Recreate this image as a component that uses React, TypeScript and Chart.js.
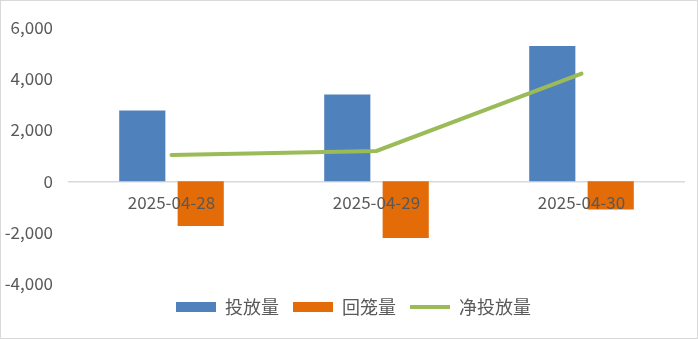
import React, { useEffect, useRef } from "react";
import { Chart, registerables } from "chart.js";

Chart.register(...registerables);

const categories = ["2025-04-28", "2025-04-29", "2025-04-30"];
const releaseValues = [2760, 3380, 5270];
const withdrawValues = [-1745, -2210, -1100];
const netValues = [1025, 1180, 4190];
const seriesNames = ["投放量", "回笼量", "净投放量"];
const yMin = -4000;
const yMax = 6000;
const yStep = 2000;

const FONT = "'Noto Sans CJK SC', 'Noto Sans', sans-serif";
const TEXT = "#595959";

const legendShift = {
  id: "legendShift",
  afterLayout(chart: any) {
    const lg = chart.legend;
    if (lg) {
      lg.left += 11;
      lg.right += 11;
      if (typeof lg.adjustHitBoxes === "function") lg.adjustHitBoxes();
    }
  },
};

export default function App() {
  const ref = useRef<HTMLCanvasElement | null>(null);
  useEffect(() => {
    if (!ref.current) return;
    const chart = new Chart(ref.current, {
      type: "bar",
      data: {
        labels: categories,
        datasets: [
          {
            type: "bar",
            label: seriesNames[0],
            data: releaseValues,
            backgroundColor: "#4F81BD",
            borderWidth: 0,
            pointStyle: "rect",
            order: 1,
            categoryPercentage: 0.57,
            barPercentage: 0.79,
          } as any,
          {
            type: "bar",
            label: seriesNames[1],
            data: withdrawValues,
            backgroundColor: "#E36C09",
            borderWidth: 0,
            pointStyle: "rect",
            order: 1,
            categoryPercentage: 0.57,
            barPercentage: 0.79,
          } as any,
          {
            type: "line",
            label: seriesNames[2],
            data: netValues,
            borderColor: "#9BBB59",
            backgroundColor: "#9BBB59",
            borderWidth: 4,
            borderCapStyle: "round",
            pointRadius: 0,
            pointHoverRadius: 0,
            pointStyle: "line",
            tension: 0,
            order: 0,
          } as any,
        ],
      },
      plugins: [legendShift],
      options: {
        responsive: false,
        animation: false,
        devicePixelRatio: 1,
        layout: { padding: { left: 0, right: 13, top: 22, bottom: 12 } },
        plugins: {
          tooltip: { enabled: false },
          legend: {
            position: "bottom",
            labels: {
              usePointStyle: true,
              pointStyleWidth: 40,
              boxWidth: 40,
              boxHeight: 10,
              padding: 14,
              color: TEXT,
              font: { family: FONT, size: 18 },
              sort: (a: any, b: any) => a.datasetIndex - b.datasetIndex,
            },
          },
        },
        scales: {
          x: {
            position: { y: 0 } as any,
            grid: { display: false, drawTicks: false },
            border: { display: true, color: "#D9D9D9", width: 1.5 },
            ticks: {
              z: 1,
              color: TEXT,
              font: { family: FONT, size: 17 },
              padding: 11,
              maxRotation: 0,
            },
          },
          y: {
            min: yMin,
            max: yMax,
            grid: { display: false, drawTicks: false },
            border: { display: false },
            afterFit: (scale: any) => {
              scale.width = 68;
            },
            ticks: {
              stepSize: yStep,
              color: TEXT,
              padding: 16,
              font: { family: FONT, size: 17 },
              callback: (v: any) => Number(v).toLocaleString("en-US"),
            },
          },
        },
      },
    });
    return () => chart.destroy();
  }, []);
  return (
    <div
      style={{
        position: "absolute",
        left: 0,
        top: 0,
        width: 698,
        height: 339,
        border: "1px solid #D9D9D9",
        boxSizing: "border-box",
        background: "#fff",
      }}
    >
      <canvas ref={ref} width={696} height={337} style={{ display: "block" }} />
    </div>
  );
}
